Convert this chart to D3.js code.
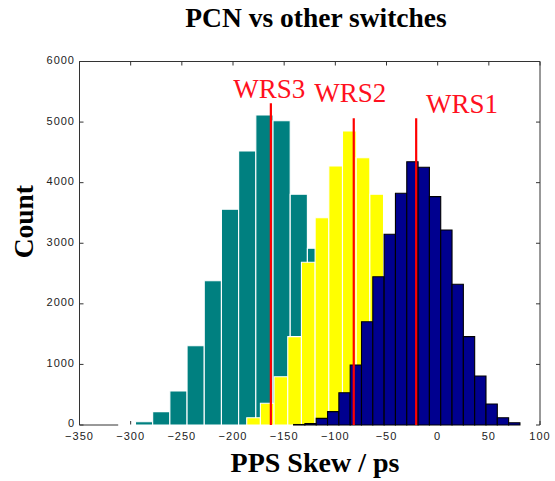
<!DOCTYPE html>
<html>
<head>
<meta charset="utf-8">
<script src="https://cdn.jsdelivr.net/npm/d3@7"></script>
<style>
  body { margin: 0; background: #fff; }
  #chart { width: 555px; height: 481px; }
  .tick-label { font-family: "Liberation Sans", Arial, sans-serif; font-size: 11px; fill: #222; letter-spacing: 1px; }
  .title { font-family: "Liberation Serif", "Times New Roman", serif; font-weight: bold; fill: #000; }
  .marker-label { font-family: "Liberation Serif", "Times New Roman", serif; font-size: 27px; fill: #ff1020; }
</style>
</head>
<body>
<div id="chart"></div>
<script>
// axis ticks
const xTicks = [-350, -300, -250, -200, -150, -100, -50, 0, 50, 100];
const yTicks = [0, 1000, 2000, 3000, 4000, 5000, 6000];

// histograms: first bin edge, bin width, counts per bin (20 bins each)
const tealStart = -312.1;
const tealWidth = 16.8;
const tealCounts = [0, 54, 220, 561, 1309, 2382, 3561, 4523, 5117, 5023, 3808, 2917, 1950, 1150, 520, 180, 60, 20, 5, 1];

const yellowStart = -186.6;
const yellowWidth = 13.37;
const yellowCounts = [120, 358, 797, 1458, 2686, 3422, 4275, 4853, 4412, 3808, 2300, 1500, 800, 350, 130, 40, 12, 3, 1, 0];

const navyStart = -140.8;
const navyWidth = 11.06;
const navyCounts = [8, 22, 110, 220, 533, 990, 1705, 2448, 3148, 3825, 4346, 4254, 3769, 3219, 2323, 1458, 809, 347, 120, 38];

// red marker lines and their labels
const markerNames = ["WRS1", "WRS2", "WRS3"];
const markerValues = [-21, -82, -163];
const markerTops = [5063, 5063, 5310];
const labelX = [23.7, -85.4, -164.5];
const labelY = [5155, 5337, 5393];

class Histogram {
  constructor(opts) {
    this.element = opts.element;
    this.draw();
  }

  draw() {
    this.margin = {top: 61.5, right: 15, bottom: 56, left: 79.5};
    this.width = 555 - this.margin.left - this.margin.right;
    this.height = 481 - this.margin.top - this.margin.bottom;

    this.svg = d3.select(this.element).append("svg")
      .attr("width", 555)
      .attr("height", 481);

    this.chart = this.svg.append("g")
      .attr("transform", "translate(" + this.margin.left + "," + this.margin.top + ")");

    this.createScales();
    this.addAxes();
    this.addBars(tealStart, tealWidth, tealCounts, "#008080", "#fff");
    this.addBars(yellowStart, yellowWidth, yellowCounts, "#ffff00", "#fff");
    this.addBars(navyStart, navyWidth, navyCounts, "#00008f", "#000");
    this.addMarkers();
    this.addTitles();
  }

  createScales() {
    this.xscale = d3.scaleLinear().domain([-350, 100]).range([0, this.width]);
    this.yscale = d3.scaleLinear().domain([0, 6000]).range([this.height, 0]);
  }

  addAxes() {
    const fmt = d3.format("");
    const frame = this.chart.append("g")
      .attr("stroke", "#333").attr("stroke-width", 1).attr("fill", "none");

    // left, top, right edges of the box
    frame.append("path")
      .attr("d", "M0," + this.height + "V0H" + this.width + "V" + this.height);
    // bottom edge: only visible left of the histograms
    frame.append("line")
      .attr("x1", this.xscale(-350)).attr("x2", this.xscale(tealStart))
      .attr("y1", this.height).attr("y2", this.height);

    // inward ticks
    xTicks.forEach(t => {
      const x = this.xscale(t);
      frame.append("line").attr("x1", x).attr("x2", x).attr("y1", 0).attr("y2", 4);
      frame.append("line").attr("x1", x).attr("x2", x).attr("y1", this.height).attr("y2", this.height - 4);
    });
    yTicks.forEach(t => {
      const y = this.yscale(t);
      frame.append("line").attr("x1", 0).attr("x2", 4).attr("y1", y).attr("y2", y);
      frame.append("line").attr("x1", this.width).attr("x2", this.width - 4).attr("y1", y).attr("y2", y);
    });

    this.chart.append("g").selectAll("text")
      .data(xTicks)
      .join("text").attr("class", "tick-label")
      .attr("x", d => this.xscale(d))
      .attr("y", this.height + 15)
      .attr("text-anchor", "middle")
      .text(d => fmt(d));

    this.chart.append("g").selectAll("text")
      .data(yTicks)
      .join("text").attr("class", "tick-label")
      .attr("x", -4.5)
      .attr("y", d => this.yscale(d))
      .attr("dy", "0.22em")
      .attr("text-anchor", "end")
      .text(d => fmt(d));
  }

  addBars(start, binWidth, counts, fill, edge) {
    const bins = counts.map((c, i) => ({x0: start + i * binWidth, x1: start + (i + 1) * binWidth, count: c}));
    this.chart.append("g").selectAll("path")
      .data(bins)
      .join("path")
      .attr("d", d => {
        const p = d3.path();
        const x0 = this.xscale(d.x0), x1 = this.xscale(d.x1);
        const y0 = this.yscale(0), y1 = this.yscale(d.count);
        p.moveTo(x0, y0);
        p.lineTo(x0, y1);
        p.lineTo(x1, y1);
        p.lineTo(x1, y0);
        p.closePath();
        return p.toString();
      })
      .attr("fill", fill)
      .attr("stroke", edge)
      .attr("stroke-width", 1.1);
  }

  addMarkers() {
    const idx = d3.range(markerNames.length);
    this.chart.append("g").selectAll("line")
      .data(idx)
      .join("line")
      .attr("x1", i => this.xscale(markerValues[i]))
      .attr("x2", i => this.xscale(markerValues[i]))
      .attr("y1", this.yscale(0))
      .attr("y2", i => this.yscale(markerTops[i]))
      .attr("stroke", "#ff0000")
      .attr("stroke-width", 2.2);

    this.chart.append("g").selectAll("text")
      .data(idx)
      .join("text").attr("class", "marker-label")
      .attr("x", i => this.xscale(labelX[i]))
      .attr("y", i => this.yscale(labelY[i]))
      .attr("text-anchor", "middle")
      .text(i => markerNames[i]);
  }

  addTitles() {
    this.svg.append("text").attr("class", "title")
      .attr("x", 316).attr("y", 27)
      .attr("text-anchor", "middle")
      .style("font-size", "27.5px")
      .text("PCN vs other switches");

    this.svg.append("text").attr("class", "title")
      .attr("x", 315).attr("y", 471.5)
      .attr("text-anchor", "middle")
      .style("font-size", "28px")
      .text("PPS Skew / ps");

    this.svg.append("text").attr("class", "title")
      .attr("transform", "translate(33,221.7) rotate(-90)")
      .attr("text-anchor", "middle")
      .style("font-size", "27.5px")
      .text("Count");
  }
}

new Histogram({element: document.getElementById("chart")});
</script>
</body>
</html>
